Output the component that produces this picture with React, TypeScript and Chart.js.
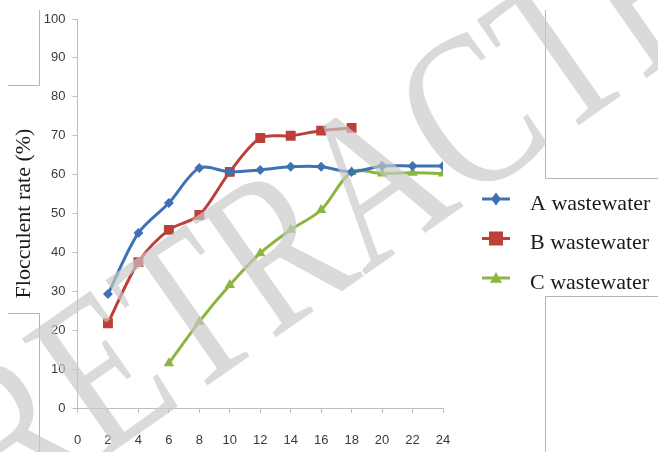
import React, { useEffect, useRef } from "react";
import { Chart, registerables } from "chart.js";

Chart.register(...registerables);

const timeA = [2, 4, 6, 8, 10, 12, 14, 16, 18, 20, 22, 24];
const rateA = [29.3, 45, 52.7, 61.7, 60.7, 61.2, 62, 62, 60.7, 62.2, 62.2, 62.2];
const timeB = [2, 4, 6, 8, 10, 12, 14, 16, 18];
const rateB = [21.8, 37.5, 45.8, 49.6, 60.7, 69.4, 70, 71.3, 72];
const timeC = [6, 8, 10, 12, 14, 16, 18, 20, 22, 24];
const rateC = [11.5, 22.2, 31.6, 39.8, 45.8, 50.9, 60.7, 60.3, 60.5, 60.3];
const seriesNames = ["A wastewater", "B wastewater", "C wastewater"];
const seriesColors = ["#3F72B5", "#BD3F3A", "#8DB542"];
const seriesPoints = ["rectRot", "rect", "triangle"];
const seriesRadius = [5, 7, 6];
const yTitle = "Flocculent rate (%)";
const watermarkText = "RETRACTED";

function toPts(xs: number[], ys: number[]) {
  return xs.map((x, i) => ({ x, y: ys[i] }));
}

function drawMarker(ctx: CanvasRenderingContext2D, style: string, x: number, y: number, r: number, color: string) {
  ctx.fillStyle = color;
  ctx.beginPath();
  if (style === "rect") {
    ctx.rect(x - r, y - r, 2 * r, 2 * r);
  } else if (style === "rectRot") {
    ctx.moveTo(x, y - r * 1.3);
    ctx.lineTo(x + r, y);
    ctx.lineTo(x, y + r * 1.3);
    ctx.lineTo(x - r, y);
    ctx.closePath();
  } else {
    ctx.moveTo(x, y - r);
    ctx.lineTo(x + r, y + r * 0.8);
    ctx.lineTo(x - r, y + r * 0.8);
    ctx.closePath();
  }
  ctx.fill();
}

const framePlugin = {
  id: "frameLines",
  beforeDraw(chart: any) {
    const ctx = chart.ctx as CanvasRenderingContext2D;
    ctx.save();
    ctx.strokeStyle = "#b5b5b5";
    ctx.lineWidth = 1;
    ctx.beginPath();
    ctx.moveTo(39.5, 10); ctx.lineTo(39.5, 85.5); ctx.lineTo(8, 85.5);
    ctx.moveTo(8, 313.5); ctx.lineTo(39.5, 313.5); ctx.lineTo(39.5, 452);
    ctx.moveTo(545.5, 10); ctx.lineTo(545.5, 178.5); ctx.lineTo(658, 178.5);
    ctx.moveTo(658, 296.5); ctx.lineTo(545.5, 296.5); ctx.lineTo(545.5, 452);
    ctx.stroke();
    ctx.restore();
  },
};

const legendPlugin = {
  id: "sideLegend",
  afterDatasetsDraw(chart: any) {
    const ctx = chart.ctx as CanvasRenderingContext2D;
    ctx.save();
    chart.data.datasets.forEach((ds: any, i: number) => {
      const y = 199 + i * 39.5;
      ctx.strokeStyle = ds.borderColor;
      ctx.lineWidth = 3;
      ctx.beginPath();
      ctx.moveTo(482, y);
      ctx.lineTo(510, y);
      ctx.stroke();
      drawMarker(ctx, ds.pointStyle, 496, y, ds.pointRadius, ds.borderColor);
      ctx.fillStyle = "#1a1a1a";
      ctx.font = "22px 'Liberation Serif', 'Times New Roman', serif";
      ctx.textBaseline = "middle";
      ctx.textAlign = "left";
      ctx.fillText(ds.label, 530, y + 5);
    });
    ctx.restore();
  },
};

const watermarkPlugin = {
  id: "watermark",
  afterDraw(chart: any) {
    const ctx = chart.ctx as CanvasRenderingContext2D;
    ctx.save();
    ctx.translate(8, 525);
    ctx.rotate((-35 * Math.PI) / 180);
    ctx.scale(1, 1.3);
    ctx.font = "170px 'Liberation Serif', 'Times New Roman', serif";
    ctx.fillStyle = "rgba(200,200,200,0.68)";
    ctx.textBaseline = "alphabetic";
    ctx.fillText(watermarkText, 0, 0);
    ctx.restore();
  },
};

export default function App() {
  const ref = useRef<HTMLCanvasElement | null>(null);
  useEffect(() => {
    document.body.style.margin = "0";
    const canvas = ref.current;
    if (!canvas) return;
    const tickFont = { family: "'Liberation Sans', Arial, sans-serif", size: 13 };
    const chart = new Chart(canvas, {
      type: "line",
      data: {
        datasets: [
          { data: toPts(timeA, rateA) },
          { data: toPts(timeB, rateB) },
          { data: toPts(timeC, rateC) },
        ].map((d, i) => ({
          ...d,
          label: seriesNames[i],
          borderColor: seriesColors[i],
          backgroundColor: seriesColors[i],
          pointBackgroundColor: seriesColors[i],
          pointBorderColor: seriesColors[i],
          pointStyle: seriesPoints[i] as any,
          pointRadius: seriesRadius[i],
          pointBorderWidth: 0,
          borderWidth: 3,
          tension: 0.3,
          fill: false,
        })),
      },
      options: {
        animation: false,
        responsive: false,
        events: [],
        layout: { padding: { top: 19, right: 215, left: 0, bottom: 0 } },
        plugins: { legend: { display: false }, tooltip: { enabled: false } },
        scales: {
          x: {
            type: "linear",
            min: 0,
            max: 24,
            ticks: { stepSize: 2, font: tickFont, color: "#3a3a3a", padding: 20, maxRotation: 0 },
            grid: { drawOnChartArea: false, drawTicks: true, tickLength: 5, color: "#bdbdbd" },
            border: { color: "#bdbdbd", width: 1 },
            afterFit(scale: any) { scale.height = 44; },
          },
          y: {
            min: 0,
            max: 100,
            ticks: { stepSize: 10, font: tickFont, color: "#3a3a3a", padding: 7 },
            grid: { drawOnChartArea: false, drawTicks: true, tickLength: 5, color: "#bdbdbd" },
            border: { color: "#bdbdbd", width: 1 },
            title: {
              display: true,
              text: yTitle,
              color: "#1a1a1a",
              font: { family: "'Liberation Serif', 'Times New Roman', serif", size: 22 },
              padding: { top: 11, bottom: 0 },
            },
            afterFit(scale: any) { scale.width = 77.5; },
          },
        },
      },
      plugins: [framePlugin, legendPlugin, watermarkPlugin],
    });
    return () => chart.destroy();
  }, []);
  return (
    <div style={{ width: 658, height: 452 }}>
      <canvas ref={ref} width={658} height={452} />
    </div>
  );
}
